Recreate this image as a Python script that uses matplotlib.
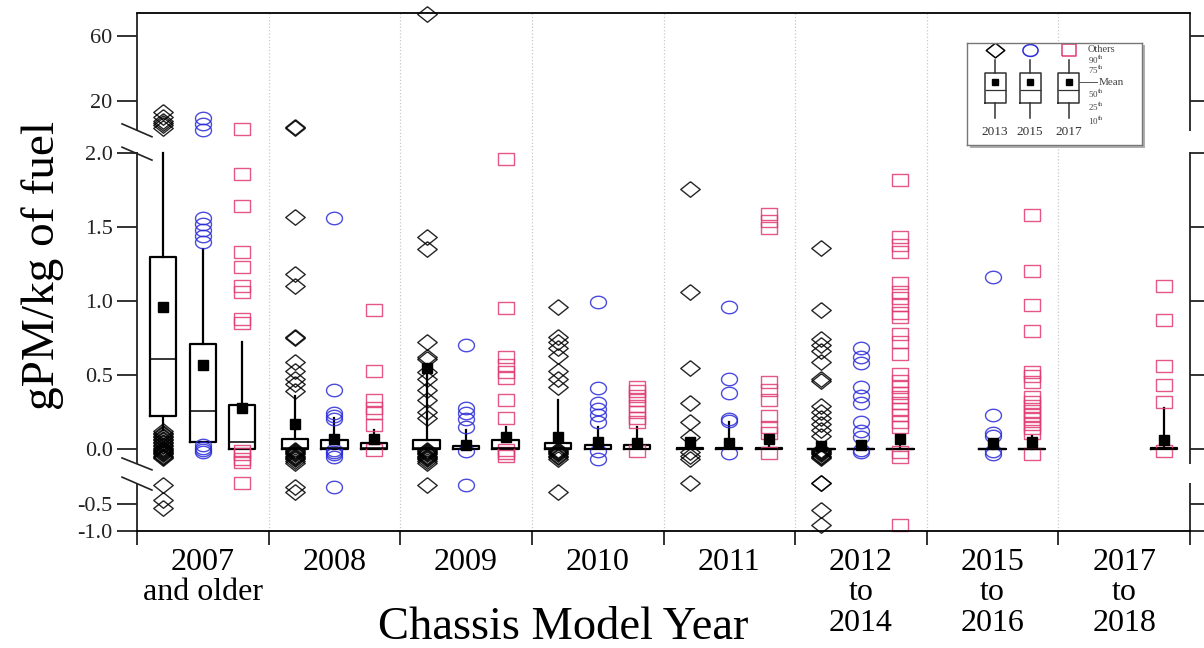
import numpy as np
import matplotlib.pyplot as plt
from matplotlib.patches import Rectangle
from matplotlib.ticker import FixedLocator, NullLocator

plt.rcParams['font.family'] = ['Liberation Serif', 'DejaVu Serif']
plt.rcParams['mathtext.fontset'] = 'stix'

# ---------------- data ----------------
groups = ['2007\nand older', '2008', '2009', '2010', '2011',
          '2012\nto\n2014', '2015\nto\n2016', '2017\nto\n2018']
series = ['2013', '2015', '2017']

# 2013 campaign (black diamonds), None = no trucks in that group
p10_2013 = [0.13, 0.0, 0.0, 0.0, 0.0, 0.0, None, None]
p25_2013 = [0.22, 0.0, 0.0, 0.0, 0.0, 0.0, None, None]
p50_2013 = [0.61, 0.01, 0.01, 0.01, 0.0, 0.0, None, None]
p75_2013 = [1.30, 0.07, 0.06, 0.04, 0.01, 0.0, None, None]
p90_2013 = [2.0, 0.36, 0.52, 0.33, 0.05, 0.05, None, None]
mean_2013 = [0.96, 0.17, 0.55, 0.08, 0.05, 0.02, None, None]
out_2013 = [
    [16.2, 14.5, 13.1, 12.4, 11.7, 10.7, 0.12, 0.11, 0.10, 0.09, 0.08, 0.07, 0.06,
     0.05, 0.04, 0.03, 0.02, 0.01, 0.0, -0.01, -0.02, -0.03, -0.04, -0.05, -0.06,
     -0.07, -0.08, -0.33, -0.46, -0.57],
    [11.0, 10.8, 1.57, 1.18, 1.10, 0.76, 0.75, 0.59, 0.53, 0.47, 0.44, 0.39, -0.01,
     -0.02, -0.03, -0.04, -0.05, -0.06, -0.07, -0.08, -0.09, -0.11, -0.13, -0.35, -0.39],
    [73.6, 1.43, 1.35, 0.72, 0.62, 0.61, 0.52, 0.47, 0.40, 0.33, 0.25, 0.21, -0.01,
     -0.02, -0.03, -0.04, -0.05, -0.06, -0.07, -0.08, -0.09, -0.11, -0.13, -0.33],
    [0.96, 0.76, 0.72, 0.68, 0.63, 0.53, 0.47, 0.42, -0.01, -0.02, -0.03, -0.04,
     -0.05, -0.06, -0.07, -0.09, -0.39],
    [1.76, 1.06, 0.55, 0.31, 0.18, 0.08, -0.03, -0.06, -0.09, -0.31],
    [1.36, 0.94, 0.74, 0.70, 0.66, 0.59, 0.47, 0.46, 0.29, 0.25, 0.21, 0.17, 0.13,
     0.09, -0.01, -0.02, -0.03, -0.04, -0.05, -0.06, -0.07, -0.08, -0.31, -0.31,
     -0.61, -0.89],
    None, None,
]

# 2015 campaign (blue circles)
p10_2015 = [0.05, 0.0, 0.0, 0.0, 0.0, 0.0, 0.0, None]
p25_2015 = [0.05, 0.0, 0.0, 0.0, 0.0, 0.0, 0.0, None]
p50_2015 = [0.26, 0.01, 0.0, 0.0, 0.0, 0.0, 0.0, None]
p75_2015 = [0.71, 0.06, 0.02, 0.03, 0.01, 0.0, 0.0, None]
p90_2015 = [1.35, 0.21, 0.13, 0.15, 0.18, 0.05, 0.04, None]
mean_2015 = [0.57, 0.07, 0.03, 0.05, 0.04, 0.03, 0.04, None]
out_2015 = [
    [14.1, 12.0, 10.0, 1.56, 1.52, 1.48, 1.44, 1.40, 0.03, 0.01, -0.01, -0.03],
    [1.56, 0.40, 0.24, 0.22, 0.20, -0.01, -0.03, -0.05, -0.07, -0.35],
    [0.70, 0.28, 0.24, 0.20, 0.15, -0.02, -0.33],
    [0.99, 0.41, 0.31, 0.27, 0.23, 0.18, -0.02, -0.09],
    [0.96, 0.47, 0.38, 0.20, 0.19, -0.04],
    [0.68, 0.62, 0.58, 0.42, 0.36, 0.31, 0.18, 0.12, 0.08, -0.01, -0.03],
    [1.16, 0.23, 0.11, 0.09, -0.02, -0.05],
    None,
]

# 2017 campaign (pink squares)
p10_2017 = [0.0, 0.0, 0.0, 0.0, 0.0, 0.0, 0.0, 0.0]
p25_2017 = [0.0, 0.0, 0.0, 0.0, 0.0, 0.0, 0.0, 0.0]
p50_2017 = [0.05, 0.01, 0.01, 0.0, 0.0, 0.0, 0.0, 0.0]
p75_2017 = [0.30, 0.04, 0.06, 0.03, 0.01, 0.0, 0.0, 0.01]
p90_2017 = [0.72, 0.13, 0.15, 0.15, 0.09, 0.08, 0.09, 0.28]
mean_2017 = [0.28, 0.07, 0.08, 0.04, 0.07, 0.07, 0.05, 0.06]
out_2017 = [
    [10.4, 1.86, 1.64, 1.33, 1.23, 1.10, 1.06, 0.88, 0.85, -0.02, -0.05, -0.09,
     -0.12, -0.31],
    [0.94, 0.53, 0.33, 0.28, 0.24, 0.16, -0.01],
    [1.96, 0.95, 0.62, 0.57, 0.52, 0.48, 0.33, 0.21, -0.01, -0.04, -0.06],
    [0.42, 0.39, 0.36, 0.33, 0.29, 0.25, 0.21, 0.18, -0.02],
    [1.59, 1.54, 1.49, 0.45, 0.40, 0.33, 0.22, 0.15, 0.11, -0.04],
    [1.82, 1.43, 1.38, 1.33, 1.12, 1.06, 1.02, 0.97, 0.92, 0.89, 0.78, 0.72, 0.64,
     0.51, 0.46, 0.42, 0.38, 0.35, 0.31, 0.27, 0.23, 0.18, 0.15, -0.03, -0.07, -0.89],
    [1.58, 1.20, 0.97, 0.80, 0.52, 0.49, 0.45, 0.35, 0.32, 0.29, 0.26, 0.23, 0.20,
     0.17, 0.14, 0.11, -0.05],
    [1.10, 0.87, 0.56, 0.43, 0.32, -0.02],
]

yticks = [-1.0, -0.5, 0.0, 0.5, 1.0, 1.5, 2.0, 20, 60]
ytick_labels = ['-1.0', '-0.5', '0.0', '0.5', '1.0', '1.5', '2.0', '20', '60']

# broken y axis: piecewise linear scale (data value -> screen units)
y_knots = [-1.5, -1.0, -0.5, 0.0, 2.0, 20.0, 60.0, 100.0]
pos_knots = [-27.0, 0.0, 27.0, 82.0, 378.0, 430.0, 495.0, 560.0]


def fwd(y):
    return np.interp(y, y_knots, pos_knots)


def inv(p):
    return np.interp(p, pos_knots, y_knots)


# squashed marker shapes (the original figure is stretched sideways)
t = np.linspace(0, 2 * np.pi, 41)
m_diamond = [(0, 0.8), (1, 0), (0, -0.8), (-1, 0), (0, 0.8)]
m_circle = list(zip(np.cos(t), 0.78 * np.sin(t)))
m_square = [(-1, -0.82), (1, -0.82), (1, 0.82), (-1, 0.82), (-1, -0.82)]

styles = {
    '2013': dict(marker=m_diamond, color='black', ms=14, off=-0.3),
    '2015': dict(marker=m_circle, color='#2b2bd9', ms=11.5, off=0.0),
    '2017': dict(marker=m_square, color='#e03a72', ms=11, off=0.3),
}

stats_by_series = {
    '2013': (p10_2013, p25_2013, p50_2013, p75_2013, p90_2013, mean_2013, out_2013),
    '2015': (p10_2015, p25_2015, p50_2015, p75_2015, p90_2015, mean_2015, out_2015),
    '2017': (p10_2017, p25_2017, p50_2017, p75_2017, p90_2017, mean_2017, out_2017),
}

# ---------------- figure ----------------
fig = plt.figure(figsize=(12.04, 6.48), dpi=100)
ax = fig.add_axes([137 / 1204, 1 - 531 / 648, 1053 / 1204, 518 / 648])
ax.set_yscale('function', functions=(fwd, inv))

line_kw = dict(color='black', linewidth=1.6)
for s in series:
    st = styles[s]
    p10, p25, p50, p75, p90, mn, outs = stats_by_series[s]
    bstats, pos = [], []
    for i in range(len(groups)):
        if p50[i] is None:
            continue
        bstats.append(dict(whislo=p10[i], q1=p25[i], med=p50[i], q3=p75[i],
                           whishi=p90[i], mean=mn[i], fliers=outs[i]))
        pos.append(i + st['off'])
    ax.bxp(bstats, positions=pos, widths=0.2, showmeans=True, showcaps=False,
           showfliers=True, manage_ticks=False,
           boxprops=line_kw, whiskerprops=line_kw,
           medianprops=dict(color='black', linewidth=1.1),
           meanprops=dict(marker='s', markerfacecolor='black',
                          markeredgecolor='black', markersize=6.5),
           flierprops=dict(marker=st['marker'], markersize=st['ms'],
                           markerfacecolor='none', markeredgecolor=st['color'],
                           markeredgewidth=1.0, alpha=0.85, clip_on=False))

# group separators
for b in np.arange(0.5, len(groups) - 1, 1.0):
    ax.axvline(b, color='#c8c8c8', linestyle=':', linewidth=0.9, zorder=0)

ax.set_xlim(-0.5, len(groups) - 0.5)
ax.set_ylim(-1.0, 74.15)

ax.yaxis.set_major_locator(FixedLocator(yticks))
ax.yaxis.set_minor_locator(NullLocator())
ax.set_yticklabels(ytick_labels)
ax.tick_params(axis='y', which='major', direction='out', length=14.5, width=1.3,
               labelsize=16, left=True, right=True, pad=3, colors='#222222')

ax.set_xticks(np.arange(-0.5, len(groups), 1.0))
ax.set_xticklabels([])
ax.set_xticks(np.arange(len(groups)), minor=True)
ax.set_xticklabels(groups, minor=True, fontsize=23, linespacing=1.08,
                   va='top')
ax.tick_params(axis='x', which='major', direction='out', length=10, width=1.3,
               colors='#222222')
ax.tick_params(axis='x', which='minor', length=0, pad=12)

# spines with gaps at the axis breaks
for side in ['left', 'right']:
    ax.spines[side].set_visible(False)
ax.spines['top'].set_linewidth(1.3)
ax.spines['bottom'].set_linewidth(1.3)
gap_top = (0.732, 0.772)
gap_bot = (0.093, 0.129)
for xs in [0.0, 1.0]:
    for y0, y1 in [(0.0, gap_bot[0]), (gap_bot[1], gap_top[0]), (gap_top[1], 1.0)]:
        ax.plot([xs, xs], [y0, y1], transform=ax.transAxes, color='#222222',
                linewidth=1.3, clip_on=False, solid_capstyle='butt')

# break slashes on the left axis
dx = 0.0142
for ya, yb in [(0.786, 0.761), (0.741, 0.716), (0.141, 0.118), (0.104, 0.079)]:
    ax.plot([-dx, dx], [ya, yb], transform=ax.transAxes, color='#222222',
            linewidth=1.2, clip_on=False)

ax.set_xlabel('Chassis Model Year', fontsize=33.5, va='center')
ax.xaxis.set_label_coords(0.405, -0.186)
ax.set_ylabel('gPM/kg of fuel', fontsize=34, va='center')
ax.yaxis.set_label_coords(-0.090, 0.513)

# ---------------- legend key ----------------
lx, ly, lw, lh = 967 / 1204, 1 - 145 / 648, 175 / 1204, 102 / 648
shadow = Rectangle((lx + 2.5 / 1204, ly - 2.5 / 648), lw, lh, transform=fig.transFigure,
                   facecolor='#b0b0b0', edgecolor='none', zorder=0.5)
fig.patches.append(shadow)
lax = fig.add_axes([lx, ly, lw, lh], zorder=1)
lax.set_xlim(0, 1)
lax.set_ylim(0, 1)
lax.set_xticks([])
lax.set_yticks([])
for sp in lax.spines.values():
    sp.set_color('#777777')
    sp.set_linewidth(1.0)

key_pos = [0.16, 0.36, 0.58]
for s, xp in zip(series, key_pos):
    st = styles[s]
    lax.bxp([dict(whislo=0.26, q1=0.41, med=0.54, q3=0.71, whishi=0.83,
                  mean=0.62, fliers=[0.93])],
            positions=[xp], widths=0.12, showmeans=True, showcaps=False,
            manage_ticks=False,
            boxprops=dict(color='#333333', linewidth=1.1),
            whiskerprops=dict(color='#333333', linewidth=1.1),
            medianprops=dict(color='#333333', linewidth=0.9),
            meanprops=dict(marker='s', markerfacecolor='black',
                           markeredgecolor='black', markersize=5),
            flierprops=dict(marker=st['marker'], markersize=st['ms'] * 0.95,
                            markerfacecolor='none', markeredgecolor=st['color'],
                            markeredgewidth=1.1))
    lax.text(xp, 0.13, s, ha='center', va='center', fontsize=9.5, color='#333333')

key_txt = dict(fontsize=6.5, color='#444444', va='center')
lax.text(0.69, 0.94, 'Others', fontsize=7.5, color='#444444', va='center')
lax.text(0.69, 0.83, r'90$^{\mathrm{th}}$', **key_txt)
lax.text(0.69, 0.735, r'75$^{\mathrm{th}}$', **key_txt)
lax.text(0.69, 0.50, r'50$^{\mathrm{th}}$', **key_txt)
lax.text(0.69, 0.37, r'25$^{\mathrm{th}}$', **key_txt)
lax.text(0.69, 0.24, r'10$^{\mathrm{th}}$', **key_txt)
lax.plot([0.64, 0.74], [0.62, 0.62], color='#555555', linewidth=0.7)
lax.text(0.75, 0.615, 'Mean', fontsize=8, color='#444444', va='center')

fig.savefig('out.png', dpi=100)
